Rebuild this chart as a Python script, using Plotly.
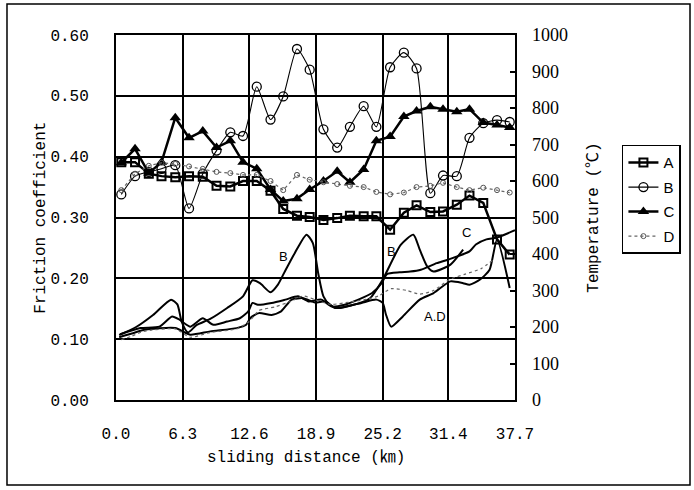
import plotly.graph_objects as go

# ---------------- data ----------------
distance = [0.5, 1.8, 3.1, 4.3, 5.6, 6.9, 8.2, 9.5, 10.8, 12.0, 13.3, 14.6, 15.8, 17.1, 18.3,
            19.6, 20.9, 22.1, 23.4, 24.6, 25.9, 27.2, 28.4, 29.7, 30.9, 32.2, 33.4, 34.7, 36.0, 37.2]

fric_A = [0.391, 0.391, 0.372, 0.368, 0.366, 0.368, 0.367, 0.352, 0.351, 0.360, 0.360, 0.344, 0.314, 0.303, 0.301,
          0.296, 0.299, 0.303, 0.302, 0.302, 0.280, 0.308, 0.320, 0.309, 0.310, 0.321, 0.336, 0.324, 0.264, 0.239]
fric_B = [0.338, 0.368, 0.375, 0.380, 0.386, 0.315, 0.372, 0.410, 0.440, 0.434, 0.515, 0.461, 0.499, 0.577, 0.543,
          0.445, 0.415, 0.449, 0.483, 0.449, 0.547, 0.571, 0.545, 0.340, 0.369, 0.368, 0.431, 0.455, 0.460, 0.457]
fric_C = [0.390, 0.413, 0.373, 0.391, 0.464, 0.431, 0.442, 0.415, 0.426, 0.391, 0.380, 0.346, 0.327, 0.331, 0.346,
          0.360, 0.376, 0.358, 0.379, 0.426, 0.433, 0.466, 0.475, 0.482, 0.478, 0.474, 0.478, 0.456, 0.452, 0.448]
fric_D = [0.345, 0.372, 0.385, 0.390, 0.388, 0.384, 0.380, 0.375, 0.373, 0.370, 0.370, 0.360, 0.345, 0.370, 0.362,
          0.358, 0.355, 0.352, 0.350, 0.342, 0.338, 0.341, 0.350, 0.352, 0.357, 0.350, 0.345, 0.349, 0.345, 0.341]

# temperature curves (°C)
tB_dist = [0.3, 1.9, 3.5, 5.2, 5.8, 6.2, 6.8, 7.6, 8.9, 10.5, 12.0, 12.9, 13.6, 14.6, 15.3, 15.9, 16.9, 18.0,
           18.6, 19.1, 19.6, 20.2, 20.9, 22.1, 24.0, 25.2, 26.9, 28.1, 28.7, 29.4, 30.0, 31.6, 32.8]
tB_temp = [178, 200, 233, 275, 262, 215, 185, 205, 222, 252, 284, 328, 320, 295, 316, 349, 403, 453,
           430, 348, 284, 261, 252, 258, 279, 330, 425, 453, 412, 366, 352, 371, 412]

tC_dist = [0.4, 2.3, 4.1, 5.3, 6.0, 7.0, 8.2, 9.2, 10.5, 11.7, 12.5, 12.9, 13.4, 14.7, 16.0, 17.2, 18.2, 19.4,
           20.4, 21.6, 22.9, 24.2, 25.1, 25.6, 26.8, 27.8, 28.8, 30.3, 31.4, 33.4, 34.0, 35.0, 36.0, 37.7]
tC_temp = [180, 197, 201, 229, 220, 201, 224, 206, 215, 224, 243, 266, 261, 266, 275, 284, 270, 275,
           256, 261, 275, 293, 320, 345, 350, 352, 357, 375, 385, 407, 426, 440, 445, 465]

tAD_dist = [0.3, 1.5, 2.6, 5.6, 7.0, 8.9, 11.4, 12.3, 12.7, 13.5, 14.7, 15.6, 16.6, 17.7, 18.8, 19.8, 20.7,
            21.7, 23.2, 24.6, 25.2, 25.5, 26.0, 27.1, 28.7, 30.0, 31.6, 32.8, 33.4, 34.4, 35.3, 36.0, 37.2]
tAD_temp = [172, 182, 192, 197, 179, 188, 197, 206, 225, 238, 233, 243, 275, 279, 267, 270, 252,
            256, 266, 275, 266, 235, 201, 229, 275, 293, 325, 320, 316, 330, 357, 440, 307]

tD_dist = [0.5, 1.5, 2.6, 5.6, 7.0, 8.9, 11.4, 12.6, 13.5, 15.0, 16.5, 17.7, 18.8, 20.3, 22.0, 23.5, 24.8,
           26.0, 27.5, 28.7, 30.0, 31.5, 33.0, 34.5, 35.7]
tD_temp = [165, 175, 188, 195, 172, 185, 195, 215, 245, 255, 270, 285, 275, 262, 268, 275, 285,
           305, 300, 290, 300, 330, 345, 360, 385]

x_ticks = [0.0, 6.3, 12.6, 18.9, 25.2, 31.4, 37.7]
x_tick_labels = ["0.0", "6.3", "12.6", "18.9", "25.2", "31.4", "37.7"]
y_ticks = [0.0, 0.1, 0.2, 0.3, 0.4, 0.5, 0.6]
y_tick_labels = ["0.00", "0.10", "0.20", "0.30", "0.40", "0.50", "0.60"]
y2_ticks = [0, 100, 200, 300, 400, 500, 600, 700, 800, 900, 1000]
y2_tick_labels = ["0", "100", "200", "300", "400", "500", "600", "700", "800", "900", "1000"]

curve_labels = [("B", 15.8, 392), ("B", 26.05, 407), ("C", 33.15, 458), ("A.D", 30.1, 229)]

# ---------------- figure ----------------
MONO = "Liberation Mono, DejaVu Sans Mono, monospace"
fig = go.Figure()

fig.add_trace(go.Scatter(x=distance, y=fric_A, name="A", mode="lines+markers", legendgroup="A",
                         line=dict(color="black", width=2.5),
                         marker=dict(symbol="square-open", size=8, color="black", line=dict(width=2))))
fig.add_trace(go.Scatter(x=distance, y=fric_B, name="B", mode="lines+markers", legendgroup="B",
                         line=dict(color="black", width=1.1, shape="spline", smoothing=0.6),
                         marker=dict(symbol="circle-open", size=9, color="black", line=dict(width=1.3))))
fig.add_trace(go.Scatter(x=distance, y=fric_C, name="C", mode="lines+markers", legendgroup="C",
                         line=dict(color="black", width=2.5),
                         marker=dict(symbol="triangle-up", size=10, color="black")))
fig.add_trace(go.Scatter(x=distance, y=fric_D, name="D", mode="lines+markers", legendgroup="D",
                         line=dict(color="#666666", width=1.2, dash="dot"),
                         marker=dict(symbol="circle-open", size=5, color="#555555", line=dict(width=1))))

for xs, ys, w, col, dash in [(tB_dist, tB_temp, 2.0, "black", "solid"),
                             (tC_dist, tC_temp, 2.0, "black", "solid"),
                             (tAD_dist, tAD_temp, 2.0, "black", "solid"),
                             (tD_dist, tD_temp, 1.2, "#666666", "dot")]:
    fig.add_trace(go.Scatter(x=xs, y=ys, yaxis="y2", mode="lines", showlegend=False,
                             line=dict(color=col, width=w, dash=dash, shape="spline", smoothing=0.6),
                             hoverinfo="skip"))

annotations = []
for txt, xv, yv in curve_labels:
    annotations.append(dict(x=xv, y=yv, xref="x", yref="y2", text=txt, showarrow=False,
                            xanchor="center", yanchor="middle",
                            font=dict(family="Liberation Sans, Arial", size=13, color="black")))
annotations += [
    dict(x=-0.19, y=0.5, xref="paper", yref="paper", text="Friction coefficient", textangle=-90,
         xanchor="center", yanchor="middle",
         showarrow=False, font=dict(family=MONO, size=16, color="black")),
    dict(x=1.196, y=0.5, xref="paper", yref="paper", text="Temperature (℃)", textangle=-90,
         xanchor="center", yanchor="middle",
         showarrow=False, font=dict(family=MONO + ", Noto Sans CJK SC", size=16, color="black")),
    dict(x=0.476, y=-0.159, xref="paper", yref="paper", text="sliding distance (㎞)",
         xanchor="center", yanchor="middle",
         showarrow=False, font=dict(family=MONO + ", Noto Sans CJK SC", size=16, color="black")),
]

fig.update_layout(
    width=694, height=490,
    margin=dict(l=116, r=179, t=35, b=90, autoexpand=False),
    paper_bgcolor="white", plot_bgcolor="white",
    showlegend=True,
    legend=dict(x=1.268, y=0.699, xanchor="left", yanchor="top",
                bordercolor="black", borderwidth=1.5, bgcolor="white",
                font=dict(family="Liberation Sans, Arial", size=15, color="black"),
                tracegroupgap=2, itemwidth=30),
    xaxis=dict(range=[0, 37.7], tickvals=x_ticks, ticktext=x_tick_labels, automargin=False,
               showgrid=True, gridcolor="black", gridwidth=1.5,
               showline=True, linecolor="black", linewidth=2, mirror=True,
               zeroline=False, ticks="", ticklabelstandoff=18,
               tickfont=dict(family=MONO, size=16, color="black")),
    yaxis=dict(range=[0, 0.6], tickvals=y_ticks, ticktext=y_tick_labels, automargin=False,
               showgrid=True, gridcolor="black", gridwidth=1.5,
               showline=True, linecolor="black", linewidth=2, mirror=True,
               zeroline=False, ticks="", ticklabelstandoff=22,
               tickfont=dict(family=MONO, size=16, color="black")),
    yaxis2=dict(range=[0, 1000], tickvals=y2_ticks, ticktext=y2_tick_labels, automargin=False,
                overlaying="y", side="right", showgrid=False, zeroline=False,
                showline=False, ticks="inside", ticklen=5, tickwidth=1.5, tickcolor="black",
                ticklabelstandoff=16,
                tickfont=dict(family="Liberation Serif, Times New Roman, serif", size=18, color="black")),
    annotations=annotations,
    shapes=[dict(type="rect", xref="paper", yref="paper", x0=-0.2732, x1=1.4386, y0=-0.2329, y1=1.0849,
                 line=dict(color="black", width=1.5), layer="below")],
)

fig.write_html("out.html", config={"displayModeBar": False},
               post_script="document.body.style.margin='0px';document.body.style.overflow='hidden';")
